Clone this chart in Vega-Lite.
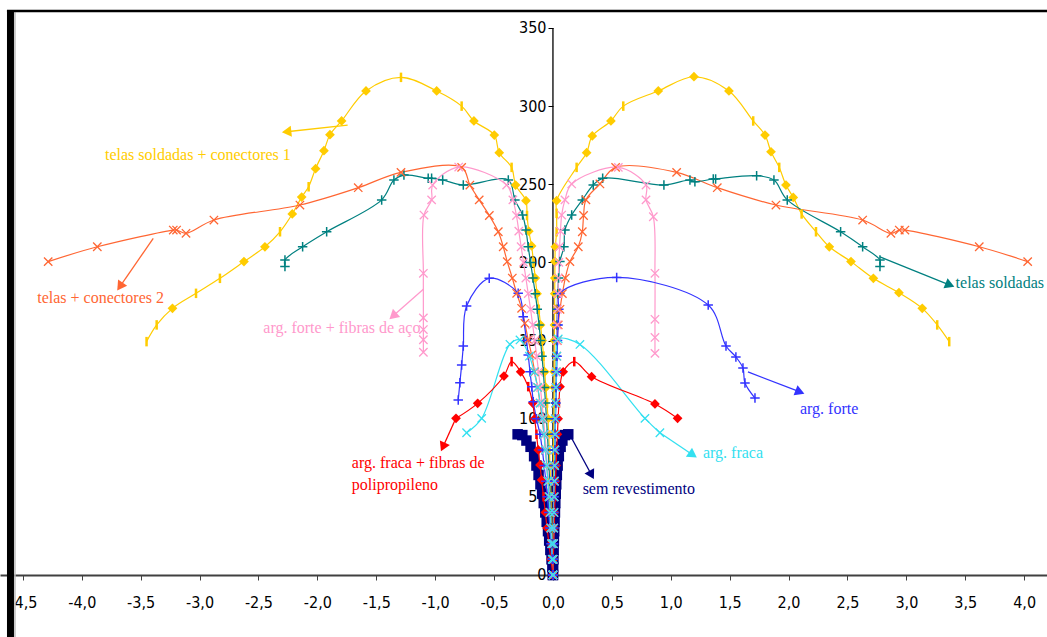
{
"$schema": "https://vega.github.io/schema/vega-lite/v6.json",
"width": 1047, "height": 637,
"autosize": {"type": "none"},
"padding": 0,
"background": "white",
"config": {"view": {"stroke": null}},
"datasets": {
"curvas": [
{"s":"G","r":"E","i":0,"x":0,"y":0,"m":1},{"s":"G","r":"E","i":1,"x":-0.003,"y":10,"m":1},{"s":"G","r":"E","i":2,"x":-0.006,"y":20,"m":2},{"s":"G","r":"E","i":3,"x":-0.01,"y":30,"m":1},{"s":"G","r":"E","i":4,"x":-0.013,"y":40,"m":1},{"s":"G","r":"E","i":5,"x":-0.017,"y":50,"m":2},{"s":"G","r":"E","i":6,"x":-0.021,"y":60,"m":1},{"s":"G","r":"E","i":7,"x":-0.025,"y":70,"m":1},{"s":"G","r":"E","i":8,"x":-0.03,"y":80,"m":2},{"s":"G","r":"E","i":9,"x":-0.036,"y":90,"m":1},{"s":"G","r":"E","i":10,"x":-0.042,"y":100,"m":1},{"s":"G","r":"E","i":11,"x":-0.05,"y":110,"m":2},{"s":"G","r":"E","i":12,"x":-0.06,"y":120,"m":1},{"s":"G","r":"E","i":13,"x":-0.07,"y":130,"m":1},{"s":"G","r":"E","i":14,"x":-0.08,"y":140,"m":2},{"s":"G","r":"E","i":15,"x":-0.092,"y":150,"m":1},{"s":"G","r":"E","i":16,"x":-0.105,"y":160,"m":1},{"s":"G","r":"E","i":17,"x":-0.12,"y":170,"m":2},{"s":"G","r":"E","i":18,"x":-0.135,"y":180,"m":1},{"s":"G","r":"E","i":19,"x":-0.15,"y":190,"m":1},{"s":"G","r":"E","i":20,"x":-0.165,"y":200,"m":2},{"s":"G","r":"E","i":21,"x":-0.181,"y":210.5,"m":1},{"s":"G","r":"E","i":22,"x":-0.205,"y":220,"m":1},{"s":"G","r":"E","i":23,"x":-0.22,"y":230,"m":2},{"s":"G","r":"E","i":24,"x":-0.229,"y":239.5,"m":1},{"s":"G","r":"E","i":25,"x":-0.317,"y":249.5,"m":1},{"s":"G","r":"E","i":26,"x":-0.351,"y":260.8,"m":2},{"s":"G","r":"E","i":27,"x":-0.456,"y":270.2,"m":1},{"s":"G","r":"E","i":28,"x":-0.498,"y":281.5,"m":1},{"s":"G","r":"E","i":29,"x":-0.671,"y":290.5,"m":1},{"s":"G","r":"E","i":30,"x":-0.775,"y":300,"m":2},{"s":"G","r":"E","i":31,"x":-0.987,"y":309.7,"m":1},{"s":"G","r":"E","i":32,"x":-1.29,"y":318.4,"m":2},{"s":"G","r":"E","i":33,"x":-1.587,"y":309.7,"m":1},{"s":"G","r":"E","i":34,"x":-1.794,"y":290.5,"m":1},{"s":"G","r":"E","i":35,"x":-1.893,"y":281.7,"m":1},{"s":"G","r":"E","i":36,"x":-1.944,"y":271.5,"m":1},{"s":"G","r":"E","i":37,"x":-2.015,"y":260,"m":1},{"s":"G","r":"E","i":38,"x":-2.074,"y":248.4,"m":2},{"s":"G","r":"E","i":39,"x":-2.133,"y":241.8,"m":1},{"s":"G","r":"E","i":40,"x":-2.213,"y":231,"m":1},{"s":"G","r":"E","i":41,"x":-2.317,"y":219.6,"m":2},{"s":"G","r":"E","i":42,"x":-2.445,"y":210,"m":1},{"s":"G","r":"E","i":43,"x":-2.623,"y":200.5,"m":1},{"s":"G","r":"E","i":44,"x":-2.827,"y":189.8,"m":2},{"s":"G","r":"E","i":45,"x":-3.03,"y":180.2,"m":2},{"s":"G","r":"E","i":46,"x":-3.23,"y":170.6,"m":1},{"s":"G","r":"E","i":47,"x":-3.364,"y":160,"m":2},{"s":"G","r":"E","i":48,"x":-3.45,"y":149.3,"m":2},
{"s":"G","r":"D","i":0,"x":0,"y":0,"m":1},{"s":"G","r":"D","i":1,"x":0.001,"y":10,"m":1},{"s":"G","r":"D","i":2,"x":0.002,"y":20,"m":2},{"s":"G","r":"D","i":3,"x":0.003,"y":30,"m":1},{"s":"G","r":"D","i":4,"x":0.004,"y":40,"m":1},{"s":"G","r":"D","i":5,"x":0.005,"y":50,"m":2},{"s":"G","r":"D","i":6,"x":0.005,"y":60,"m":1},{"s":"G","r":"D","i":7,"x":0.006,"y":70,"m":1},{"s":"G","r":"D","i":8,"x":0.006,"y":80,"m":2},{"s":"G","r":"D","i":9,"x":0.007,"y":90,"m":1},{"s":"G","r":"D","i":10,"x":0.008,"y":100,"m":1},{"s":"G","r":"D","i":11,"x":0.009,"y":110,"m":2},{"s":"G","r":"D","i":12,"x":0.01,"y":120,"m":1},{"s":"G","r":"D","i":13,"x":0.01,"y":130,"m":1},{"s":"G","r":"D","i":14,"x":0.011,"y":140,"m":2},{"s":"G","r":"D","i":15,"x":0.012,"y":150,"m":1},{"s":"G","r":"D","i":16,"x":0.013,"y":160,"m":1},{"s":"G","r":"D","i":17,"x":0.014,"y":170,"m":2},{"s":"G","r":"D","i":18,"x":0.015,"y":180,"m":1},{"s":"G","r":"D","i":19,"x":0.016,"y":190,"m":1},{"s":"G","r":"D","i":20,"x":0.017,"y":200.5,"m":1},{"s":"G","r":"D","i":21,"x":0.02,"y":210,"m":1},{"s":"G","r":"D","i":22,"x":0.031,"y":219.6,"m":2},{"s":"G","r":"D","i":23,"x":0.031,"y":231.4,"m":2},{"s":"G","r":"D","i":24,"x":0.031,"y":239.5,"m":1},{"s":"G","r":"D","i":25,"x":0.201,"y":260.8,"m":2},{"s":"G","r":"D","i":26,"x":0.286,"y":270.2,"m":1},{"s":"G","r":"D","i":27,"x":0.334,"y":280.9,"m":1},{"s":"G","r":"D","i":28,"x":0.492,"y":290.5,"m":1},{"s":"G","r":"D","i":29,"x":0.597,"y":300,"m":2},{"s":"G","r":"D","i":30,"x":0.894,"y":309.7,"m":1},{"s":"G","r":"D","i":31,"x":1.197,"y":318.8,"m":1},{"s":"G","r":"D","i":32,"x":1.494,"y":309.7,"m":1},{"s":"G","r":"D","i":33,"x":1.7,"y":290.5,"m":2},{"s":"G","r":"D","i":34,"x":1.8,"y":281.5,"m":1},{"s":"G","r":"D","i":35,"x":1.851,"y":270.8,"m":1},{"s":"G","r":"D","i":36,"x":1.921,"y":260.8,"m":2},{"s":"G","r":"D","i":37,"x":1.978,"y":249.5,"m":1},{"s":"G","r":"D","i":38,"x":2.04,"y":241.6,"m":1},{"s":"G","r":"D","i":39,"x":2.111,"y":231,"m":2},{"s":"G","r":"D","i":40,"x":2.233,"y":219.6,"m":2},{"s":"G","r":"D","i":41,"x":2.346,"y":210,"m":1},{"s":"G","r":"D","i":42,"x":2.53,"y":200.5,"m":1},{"s":"G","r":"D","i":43,"x":2.72,"y":189.8,"m":1},{"s":"G","r":"D","i":44,"x":2.937,"y":180.6,"m":1},{"s":"G","r":"D","i":45,"x":3.135,"y":170.6,"m":1},{"s":"G","r":"D","i":46,"x":3.262,"y":160,"m":2},{"s":"G","r":"D","i":47,"x":3.364,"y":149.3,"m":2},
{"s":"O","r":"E","i":0,"x":0,"y":0,"m":1},{"s":"O","r":"E","i":1,"x":-0.005,"y":10,"m":1},{"s":"O","r":"E","i":2,"x":-0.01,"y":20,"m":1},{"s":"O","r":"E","i":3,"x":-0.017,"y":30,"m":1},{"s":"O","r":"E","i":4,"x":-0.025,"y":40,"m":1},{"s":"O","r":"E","i":5,"x":-0.033,"y":50,"m":1},{"s":"O","r":"E","i":6,"x":-0.042,"y":60,"m":1},{"s":"O","r":"E","i":7,"x":-0.052,"y":70,"m":1},{"s":"O","r":"E","i":8,"x":-0.063,"y":80,"m":1},{"s":"O","r":"E","i":9,"x":-0.076,"y":90,"m":1},{"s":"O","r":"E","i":10,"x":-0.092,"y":100,"m":1},{"s":"O","r":"E","i":11,"x":-0.11,"y":110,"m":1},{"s":"O","r":"E","i":12,"x":-0.13,"y":120,"m":1},{"s":"O","r":"E","i":13,"x":-0.155,"y":130,"m":1},{"s":"O","r":"E","i":14,"x":-0.181,"y":140.8,"m":1},{"s":"O","r":"E","i":15,"x":-0.21,"y":150.4,"m":1},{"s":"O","r":"E","i":16,"x":-0.238,"y":161,"m":1},{"s":"O","r":"E","i":17,"x":-0.266,"y":170.6,"m":1},{"s":"O","r":"E","i":18,"x":-0.308,"y":180.2,"m":1},{"s":"O","r":"E","i":19,"x":-0.345,"y":190,"m":1},{"s":"O","r":"E","i":20,"x":-0.388,"y":200.5,"m":1},{"s":"O","r":"E","i":21,"x":-0.422,"y":210,"m":1},{"s":"O","r":"E","i":22,"x":-0.464,"y":219.6,"m":1},{"s":"O","r":"E","i":23,"x":-0.54,"y":230,"m":1},{"s":"O","r":"E","i":24,"x":-0.626,"y":240,"m":1},{"s":"O","r":"E","i":25,"x":-0.705,"y":249.5,"m":1},{"s":"O","r":"E","i":26,"x":-0.775,"y":260.8,"m":1},{"s":"O","r":"E","i":27,"x":-1.29,"y":257.6,"m":1},{"s":"O","r":"E","i":28,"x":-1.653,"y":247.8,"m":1},{"s":"O","r":"E","i":29,"x":-2.148,"y":236.7,"m":1},{"s":"O","r":"E","i":30,"x":-2.878,"y":227.1,"m":1},{"s":"O","r":"E","i":31,"x":-3.115,"y":218.6,"m":1},{"s":"O","r":"E","i":32,"x":-3.195,"y":220.7,"m":1},{"s":"O","r":"E","i":33,"x":-3.223,"y":220.7,"m":1},{"s":"O","r":"E","i":34,"x":-3.868,"y":210,"m":1},{"s":"O","r":"E","i":35,"x":-4.285,"y":200.5,"m":1},
{"s":"O","r":"D","i":0,"x":0,"y":0,"m":1},{"s":"O","r":"D","i":1,"x":0.002,"y":10,"m":1},{"s":"O","r":"D","i":2,"x":0.004,"y":20,"m":1},{"s":"O","r":"D","i":3,"x":0.006,"y":30,"m":1},{"s":"O","r":"D","i":4,"x":0.008,"y":40,"m":1},{"s":"O","r":"D","i":5,"x":0.01,"y":50,"m":1},{"s":"O","r":"D","i":6,"x":0.012,"y":60,"m":1},{"s":"O","r":"D","i":7,"x":0.014,"y":70,"m":1},{"s":"O","r":"D","i":8,"x":0.016,"y":80,"m":1},{"s":"O","r":"D","i":9,"x":0.018,"y":90,"m":1},{"s":"O","r":"D","i":10,"x":0.02,"y":100,"m":1},{"s":"O","r":"D","i":11,"x":0.022,"y":110,"m":1},{"s":"O","r":"D","i":12,"x":0.025,"y":120,"m":1},{"s":"O","r":"D","i":13,"x":0.028,"y":130,"m":1},{"s":"O","r":"D","i":14,"x":0.032,"y":140,"m":1},{"s":"O","r":"D","i":15,"x":0.037,"y":150,"m":1},{"s":"O","r":"D","i":16,"x":0.045,"y":160,"m":1},{"s":"O","r":"D","i":17,"x":0.06,"y":170,"m":1},{"s":"O","r":"D","i":18,"x":0.08,"y":180,"m":1},{"s":"O","r":"D","i":19,"x":0.105,"y":190,"m":1},{"s":"O","r":"D","i":20,"x":0.144,"y":200.5,"m":1},{"s":"O","r":"D","i":21,"x":0.215,"y":210,"m":1},{"s":"O","r":"D","i":22,"x":0.249,"y":219.6,"m":1},{"s":"O","r":"D","i":23,"x":0.26,"y":230,"m":1},{"s":"O","r":"D","i":24,"x":0.28,"y":240,"m":1},{"s":"O","r":"D","i":25,"x":0.399,"y":250.2,"m":1},{"s":"O","r":"D","i":26,"x":0.532,"y":260.8,"m":1},{"s":"O","r":"D","i":27,"x":1.05,"y":257.6,"m":1},{"s":"O","r":"D","i":28,"x":1.395,"y":247.8,"m":1},{"s":"O","r":"D","i":29,"x":1.893,"y":236.7,"m":1},{"s":"O","r":"D","i":30,"x":2.629,"y":227.1,"m":1},{"s":"O","r":"D","i":31,"x":2.869,"y":218.6,"m":1},{"s":"O","r":"D","i":32,"x":2.94,"y":220.7,"m":1},{"s":"O","r":"D","i":33,"x":2.988,"y":220.7,"m":1},{"s":"O","r":"D","i":34,"x":3.619,"y":210,"m":1},{"s":"O","r":"D","i":35,"x":4.03,"y":200.5,"m":1},
{"s":"T","r":"E","i":0,"x":0,"y":0,"m":1},{"s":"T","r":"E","i":1,"x":-0.004,"y":10,"m":1},{"s":"T","r":"E","i":2,"x":-0.008,"y":20,"m":1},{"s":"T","r":"E","i":3,"x":-0.013,"y":30,"m":1},{"s":"T","r":"E","i":4,"x":-0.018,"y":40,"m":1},{"s":"T","r":"E","i":5,"x":-0.023,"y":50,"m":1},{"s":"T","r":"E","i":6,"x":-0.028,"y":60,"m":1},{"s":"T","r":"E","i":7,"x":-0.034,"y":70,"m":1},{"s":"T","r":"E","i":8,"x":-0.04,"y":80,"m":1},{"s":"T","r":"E","i":9,"x":-0.047,"y":90,"m":1},{"s":"T","r":"E","i":10,"x":-0.055,"y":100,"m":1},{"s":"T","r":"E","i":11,"x":-0.063,"y":110,"m":1},{"s":"T","r":"E","i":12,"x":-0.072,"y":120,"m":1},{"s":"T","r":"E","i":13,"x":-0.082,"y":130,"m":1},{"s":"T","r":"E","i":14,"x":-0.093,"y":140,"m":1},{"s":"T","r":"E","i":15,"x":-0.105,"y":150,"m":1},{"s":"T","r":"E","i":16,"x":-0.118,"y":160,"m":1},{"s":"T","r":"E","i":17,"x":-0.133,"y":170,"m":1},{"s":"T","r":"E","i":18,"x":-0.15,"y":180,"m":1},{"s":"T","r":"E","i":19,"x":-0.17,"y":190,"m":1},{"s":"T","r":"E","i":20,"x":-0.19,"y":200,"m":1},{"s":"T","r":"E","i":21,"x":-0.21,"y":210,"m":1},{"s":"T","r":"E","i":22,"x":-0.229,"y":220.7,"m":1},{"s":"T","r":"E","i":23,"x":-0.258,"y":230.3,"m":1},{"s":"T","r":"E","i":24,"x":-0.323,"y":240,"m":1},{"s":"T","r":"E","i":25,"x":-0.379,"y":252.7,"m":1},{"s":"T","r":"E","i":26,"x":-0.761,"y":249.5,"m":1},{"s":"T","r":"E","i":27,"x":-0.936,"y":252.7,"m":1},{"s":"T","r":"E","i":28,"x":-1.03,"y":253.8,"m":1},{"s":"T","r":"E","i":29,"x":-1.059,"y":253.8,"m":1},{"s":"T","r":"E","i":30,"x":-1.265,"y":255.9,"m":1},{"s":"T","r":"E","i":31,"x":-1.35,"y":252.7,"m":1},{"s":"T","r":"E","i":32,"x":-1.454,"y":240,"m":1},{"s":"T","r":"E","i":33,"x":-1.921,"y":219.6,"m":1},{"s":"T","r":"E","i":34,"x":-2.125,"y":210,"m":1},{"s":"T","r":"E","i":35,"x":-2.275,"y":201.5,"m":1},{"s":"T","r":"E","i":36,"x":-2.275,"y":197.3,"m":1},
{"s":"T","r":"D","i":0,"x":0,"y":0,"m":1},{"s":"T","r":"D","i":1,"x":0.002,"y":10,"m":1},{"s":"T","r":"D","i":2,"x":0.004,"y":20,"m":1},{"s":"T","r":"D","i":3,"x":0.006,"y":30,"m":1},{"s":"T","r":"D","i":4,"x":0.008,"y":40,"m":1},{"s":"T","r":"D","i":5,"x":0.01,"y":50,"m":1},{"s":"T","r":"D","i":6,"x":0.012,"y":60,"m":1},{"s":"T","r":"D","i":7,"x":0.014,"y":70,"m":1},{"s":"T","r":"D","i":8,"x":0.016,"y":80,"m":1},{"s":"T","r":"D","i":9,"x":0.018,"y":90,"m":1},{"s":"T","r":"D","i":10,"x":0.02,"y":100,"m":1},{"s":"T","r":"D","i":11,"x":0.022,"y":110,"m":1},{"s":"T","r":"D","i":12,"x":0.024,"y":120,"m":1},{"s":"T","r":"D","i":13,"x":0.026,"y":130,"m":1},{"s":"T","r":"D","i":14,"x":0.028,"y":140,"m":1},{"s":"T","r":"D","i":15,"x":0.03,"y":150,"m":1},{"s":"T","r":"D","i":16,"x":0.033,"y":160,"m":1},{"s":"T","r":"D","i":17,"x":0.036,"y":170,"m":1},{"s":"T","r":"D","i":18,"x":0.04,"y":180,"m":1},{"s":"T","r":"D","i":19,"x":0.048,"y":190,"m":1},{"s":"T","r":"D","i":20,"x":0.059,"y":200.5,"m":1},{"s":"T","r":"D","i":21,"x":0.093,"y":210,"m":1},{"s":"T","r":"D","i":22,"x":0.102,"y":220.7,"m":1},{"s":"T","r":"D","i":23,"x":0.159,"y":230.3,"m":1},{"s":"T","r":"D","i":24,"x":0.249,"y":240,"m":1},{"s":"T","r":"D","i":25,"x":0.342,"y":249.5,"m":1},{"s":"T","r":"D","i":26,"x":0.422,"y":253.8,"m":1},{"s":"T","r":"D","i":27,"x":0.942,"y":249.5,"m":1},{"s":"T","r":"D","i":28,"x":1.163,"y":252.7,"m":1},{"s":"T","r":"D","i":29,"x":1.205,"y":251.6,"m":1},{"s":"T","r":"D","i":30,"x":1.361,"y":253.4,"m":1},{"s":"T","r":"D","i":31,"x":1.381,"y":253.4,"m":1},{"s":"T","r":"D","i":32,"x":1.729,"y":255.5,"m":1},{"s":"T","r":"D","i":33,"x":1.876,"y":252.7,"m":1},{"s":"T","r":"D","i":34,"x":1.989,"y":240,"m":1},{"s":"T","r":"D","i":35,"x":2.442,"y":219.6,"m":1},{"s":"T","r":"D","i":36,"x":2.629,"y":210,"m":1},{"s":"T","r":"D","i":37,"x":2.776,"y":201.5,"m":1},{"s":"T","r":"D","i":38,"x":2.776,"y":197.3,"m":1},
{"s":"P","r":"E","i":0,"x":0,"y":0,"m":1},{"s":"P","r":"E","i":1,"x":-0.005,"y":10,"m":1},{"s":"P","r":"E","i":2,"x":-0.01,"y":20,"m":1},{"s":"P","r":"E","i":3,"x":-0.016,"y":30,"m":1},{"s":"P","r":"E","i":4,"x":-0.022,"y":40,"m":1},{"s":"P","r":"E","i":5,"x":-0.03,"y":50,"m":1},{"s":"P","r":"E","i":6,"x":-0.038,"y":60,"m":1},{"s":"P","r":"E","i":7,"x":-0.047,"y":70,"m":1},{"s":"P","r":"E","i":8,"x":-0.057,"y":80,"m":1},{"s":"P","r":"E","i":9,"x":-0.068,"y":90,"m":1},{"s":"P","r":"E","i":10,"x":-0.08,"y":100,"m":1},{"s":"P","r":"E","i":11,"x":-0.093,"y":110,"m":1},{"s":"P","r":"E","i":12,"x":-0.107,"y":120,"m":1},{"s":"P","r":"E","i":13,"x":-0.122,"y":130,"m":1},{"s":"P","r":"E","i":14,"x":-0.138,"y":140,"m":1},{"s":"P","r":"E","i":15,"x":-0.155,"y":150,"m":1},{"s":"P","r":"E","i":16,"x":-0.172,"y":160,"m":1},{"s":"P","r":"E","i":17,"x":-0.19,"y":170,"m":1},{"s":"P","r":"E","i":18,"x":-0.21,"y":180,"m":1},{"s":"P","r":"E","i":19,"x":-0.23,"y":190,"m":1},{"s":"P","r":"E","i":20,"x":-0.25,"y":200,"m":1},{"s":"P","r":"E","i":21,"x":-0.27,"y":210,"m":1},{"s":"P","r":"E","i":22,"x":-0.29,"y":220,"m":1},{"s":"P","r":"E","i":23,"x":-0.31,"y":230,"m":1},{"s":"P","r":"E","i":24,"x":-0.34,"y":240,"m":1},{"s":"P","r":"E","i":25,"x":-0.393,"y":249.5,"m":1},{"s":"P","r":"E","i":26,"x":-0.8,"y":261,"m":1},{"s":"P","r":"E","i":27,"x":-1.021,"y":249.5,"m":1},{"s":"P","r":"E","i":28,"x":-1.03,"y":240,"m":1},{"s":"P","r":"E","i":29,"x":-1.095,"y":230.3,"m":1},{"s":"P","r":"E","i":30,"x":-1.1,"y":193,"m":1},{"s":"P","r":"E","i":31,"x":-1.1,"y":164.5,"m":1},{"s":"P","r":"E","i":32,"x":-1.1,"y":157,"m":1},{"s":"P","r":"E","i":33,"x":-1.1,"y":150.5,"m":1},{"s":"P","r":"E","i":34,"x":-1.1,"y":142.5,"m":1},
{"s":"P","r":"D","i":0,"x":0,"y":0,"m":1},{"s":"P","r":"D","i":1,"x":0.002,"y":10,"m":1},{"s":"P","r":"D","i":2,"x":0.004,"y":20,"m":1},{"s":"P","r":"D","i":3,"x":0.006,"y":30,"m":1},{"s":"P","r":"D","i":4,"x":0.008,"y":40,"m":1},{"s":"P","r":"D","i":5,"x":0.01,"y":50,"m":1},{"s":"P","r":"D","i":6,"x":0.012,"y":60,"m":1},{"s":"P","r":"D","i":7,"x":0.014,"y":70,"m":1},{"s":"P","r":"D","i":8,"x":0.016,"y":80,"m":1},{"s":"P","r":"D","i":9,"x":0.018,"y":90,"m":1},{"s":"P","r":"D","i":10,"x":0.02,"y":100,"m":1},{"s":"P","r":"D","i":11,"x":0.022,"y":110,"m":1},{"s":"P","r":"D","i":12,"x":0.024,"y":120,"m":1},{"s":"P","r":"D","i":13,"x":0.026,"y":130,"m":1},{"s":"P","r":"D","i":14,"x":0.029,"y":140,"m":1},{"s":"P","r":"D","i":15,"x":0.032,"y":150,"m":1},{"s":"P","r":"D","i":16,"x":0.035,"y":160,"m":1},{"s":"P","r":"D","i":17,"x":0.038,"y":170,"m":1},{"s":"P","r":"D","i":18,"x":0.042,"y":180,"m":1},{"s":"P","r":"D","i":19,"x":0.046,"y":190,"m":1},{"s":"P","r":"D","i":20,"x":0.05,"y":200,"m":1},{"s":"P","r":"D","i":21,"x":0.056,"y":210,"m":1},{"s":"P","r":"D","i":22,"x":0.064,"y":220,"m":1},{"s":"P","r":"D","i":23,"x":0.074,"y":230.3,"m":1},{"s":"P","r":"D","i":24,"x":0.102,"y":240,"m":1},{"s":"P","r":"D","i":25,"x":0.159,"y":250.2,"m":1},{"s":"P","r":"D","i":26,"x":0.555,"y":260.8,"m":1},{"s":"P","r":"D","i":27,"x":0.79,"y":249.5,"m":1},{"s":"P","r":"D","i":28,"x":0.79,"y":240,"m":1},{"s":"P","r":"D","i":29,"x":0.852,"y":229.2,"m":1},{"s":"P","r":"D","i":30,"x":0.866,"y":193,"m":1},{"s":"P","r":"D","i":31,"x":0.866,"y":163.6,"m":1},{"s":"P","r":"D","i":32,"x":0.866,"y":152,"m":1},{"s":"P","r":"D","i":33,"x":0.866,"y":141.8,"m":1},
{"s":"B","r":"E","i":0,"x":0,"y":0,"m":1},{"s":"B","r":"E","i":1,"x":-0.008,"y":10,"m":1},{"s":"B","r":"E","i":2,"x":-0.017,"y":20,"m":1},{"s":"B","r":"E","i":3,"x":-0.026,"y":30,"m":1},{"s":"B","r":"E","i":4,"x":-0.036,"y":40,"m":1},{"s":"B","r":"E","i":5,"x":-0.048,"y":50,"m":1},{"s":"B","r":"E","i":6,"x":-0.06,"y":60,"m":1},{"s":"B","r":"E","i":7,"x":-0.075,"y":70,"m":1},{"s":"B","r":"E","i":8,"x":-0.09,"y":80,"m":1},{"s":"B","r":"E","i":9,"x":-0.11,"y":90,"m":1},{"s":"B","r":"E","i":10,"x":-0.14,"y":100,"m":1},{"s":"B","r":"E","i":11,"x":-0.167,"y":110.9,"m":1},{"s":"B","r":"E","i":12,"x":-0.18,"y":120.5,"m":1},{"s":"B","r":"E","i":13,"x":-0.195,"y":130,"m":1},{"s":"B","r":"E","i":14,"x":-0.21,"y":140.8,"m":1},{"s":"B","r":"E","i":15,"x":-0.225,"y":150,"m":1},{"s":"B","r":"E","i":16,"x":-0.252,"y":165.2,"m":1},{"s":"B","r":"E","i":17,"x":-0.295,"y":180.2,"m":1},{"s":"B","r":"E","i":18,"x":-0.541,"y":189.8,"m":1},{"s":"B","r":"E","i":19,"x":-0.733,"y":172.1,"m":1},{"s":"B","r":"E","i":20,"x":-0.761,"y":146.5,"m":1},{"s":"B","r":"E","i":21,"x":-0.775,"y":134.4,"m":1},{"s":"B","r":"E","i":22,"x":-0.79,"y":123,"m":1},{"s":"B","r":"E","i":23,"x":-0.804,"y":112,"m":1},
{"s":"B","r":"D","i":0,"x":0,"y":0,"m":1},{"s":"B","r":"D","i":1,"x":0.002,"y":10,"m":1},{"s":"B","r":"D","i":2,"x":0.004,"y":20,"m":1},{"s":"B","r":"D","i":3,"x":0.006,"y":30,"m":1},{"s":"B","r":"D","i":4,"x":0.008,"y":40,"m":1},{"s":"B","r":"D","i":5,"x":0.01,"y":50,"m":1},{"s":"B","r":"D","i":6,"x":0.012,"y":60,"m":1},{"s":"B","r":"D","i":7,"x":0.014,"y":70,"m":1},{"s":"B","r":"D","i":8,"x":0.016,"y":80,"m":1},{"s":"B","r":"D","i":9,"x":0.019,"y":90,"m":1},{"s":"B","r":"D","i":10,"x":0.022,"y":100,"m":1},{"s":"B","r":"D","i":11,"x":0.025,"y":110,"m":1},{"s":"B","r":"D","i":12,"x":0.028,"y":120,"m":1},{"s":"B","r":"D","i":13,"x":0.031,"y":130,"m":1},{"s":"B","r":"D","i":14,"x":0.035,"y":140,"m":1},{"s":"B","r":"D","i":15,"x":0.039,"y":150,"m":1},{"s":"B","r":"D","i":16,"x":0.044,"y":160,"m":1},{"s":"B","r":"D","i":17,"x":0.05,"y":170,"m":1},{"s":"B","r":"D","i":18,"x":0.059,"y":180.2,"m":1},{"s":"B","r":"D","i":19,"x":0.541,"y":190.4,"m":1},{"s":"B","r":"D","i":20,"x":1.318,"y":172.7,"m":1},{"s":"B","r":"D","i":21,"x":1.469,"y":146.5,"m":1},{"s":"B","r":"D","i":22,"x":1.553,"y":139.5,"m":1},{"s":"B","r":"D","i":23,"x":1.613,"y":132.4,"m":1},{"s":"B","r":"D","i":24,"x":1.63,"y":122.8,"m":1},{"s":"B","r":"D","i":25,"x":1.715,"y":113.2,"m":1},
{"s":"C","r":"E","i":0,"x":0,"y":0,"m":1},{"s":"C","r":"E","i":1,"x":-0.006,"y":10,"m":1},{"s":"C","r":"E","i":2,"x":-0.012,"y":20,"m":1},{"s":"C","r":"E","i":3,"x":-0.019,"y":30,"m":1},{"s":"C","r":"E","i":4,"x":-0.026,"y":40,"m":1},{"s":"C","r":"E","i":5,"x":-0.034,"y":50,"m":1},{"s":"C","r":"E","i":6,"x":-0.043,"y":60,"m":1},{"s":"C","r":"E","i":7,"x":-0.053,"y":70,"m":1},{"s":"C","r":"E","i":8,"x":-0.064,"y":80,"m":1},{"s":"C","r":"E","i":9,"x":-0.076,"y":90,"m":1},{"s":"C","r":"E","i":10,"x":-0.09,"y":100,"m":1},{"s":"C","r":"E","i":11,"x":-0.107,"y":110,"m":1},{"s":"C","r":"E","i":12,"x":-0.13,"y":120,"m":1},{"s":"C","r":"E","i":13,"x":-0.16,"y":130,"m":1},{"s":"C","r":"E","i":14,"x":-0.2,"y":140,"m":1},{"s":"C","r":"E","i":15,"x":-0.28,"y":150.4,"m":1},{"s":"C","r":"E","i":16,"x":-0.365,"y":147.6,"m":1},{"s":"C","r":"E","i":17,"x":-0.605,"y":100.2,"m":1},{"s":"C","r":"E","i":18,"x":-0.733,"y":91,"m":1},
{"s":"C","r":"D","i":0,"x":0,"y":0,"m":1},{"s":"C","r":"D","i":1,"x":0.002,"y":10,"m":1},{"s":"C","r":"D","i":2,"x":0.004,"y":20,"m":1},{"s":"C","r":"D","i":3,"x":0.006,"y":30,"m":1},{"s":"C","r":"D","i":4,"x":0.008,"y":40,"m":1},{"s":"C","r":"D","i":5,"x":0.01,"y":50,"m":1},{"s":"C","r":"D","i":6,"x":0.012,"y":60,"m":1},{"s":"C","r":"D","i":7,"x":0.014,"y":70,"m":1},{"s":"C","r":"D","i":8,"x":0.016,"y":80,"m":1},{"s":"C","r":"D","i":9,"x":0.018,"y":90,"m":1},{"s":"C","r":"D","i":10,"x":0.02,"y":100,"m":1},{"s":"C","r":"D","i":11,"x":0.023,"y":110,"m":1},{"s":"C","r":"D","i":12,"x":0.026,"y":120,"m":1},{"s":"C","r":"D","i":13,"x":0.029,"y":130,"m":1},{"s":"C","r":"D","i":14,"x":0.033,"y":140,"m":1},{"s":"C","r":"D","i":15,"x":0.045,"y":151,"m":1},{"s":"C","r":"D","i":16,"x":0.229,"y":147.5,"m":1},{"s":"C","r":"D","i":17,"x":0.781,"y":100.2,"m":1},{"s":"C","r":"D","i":18,"x":0.908,"y":91,"m":1},
{"s":"R","r":"E","i":0,"x":0,"y":0,"m":1},{"s":"R","r":"E","i":1,"x":-0.017,"y":10,"m":1},{"s":"R","r":"E","i":2,"x":-0.034,"y":20,"m":2},{"s":"R","r":"E","i":3,"x":-0.05,"y":30,"m":1},{"s":"R","r":"E","i":4,"x":-0.065,"y":40,"m":1},{"s":"R","r":"E","i":5,"x":-0.08,"y":50,"m":2},{"s":"R","r":"E","i":6,"x":-0.096,"y":60.8,"m":1},{"s":"R","r":"E","i":7,"x":-0.11,"y":70.4,"m":1},{"s":"R","r":"E","i":8,"x":-0.125,"y":80,"m":1},{"s":"R","r":"E","i":9,"x":-0.14,"y":90,"m":2},{"s":"R","r":"E","i":10,"x":-0.155,"y":100,"m":1},{"s":"R","r":"E","i":11,"x":-0.172,"y":110,"m":1},{"s":"R","r":"E","i":12,"x":-0.21,"y":120.5,"m":2},{"s":"R","r":"E","i":13,"x":-0.274,"y":130,"m":1},{"s":"R","r":"E","i":14,"x":-0.351,"y":136.5,"m":2},{"s":"R","r":"E","i":15,"x":-0.416,"y":127.3,"m":1},{"s":"R","r":"E","i":16,"x":-0.639,"y":109.8,"m":1},{"s":"R","r":"E","i":17,"x":-0.823,"y":100.2,"m":1},
{"s":"R","r":"D","i":0,"x":0,"y":0,"m":1},{"s":"R","r":"D","i":1,"x":0.003,"y":10,"m":1},{"s":"R","r":"D","i":2,"x":0.006,"y":20,"m":2},{"s":"R","r":"D","i":3,"x":0.01,"y":30,"m":1},{"s":"R","r":"D","i":4,"x":0.014,"y":40,"m":1},{"s":"R","r":"D","i":5,"x":0.018,"y":50,"m":2},{"s":"R","r":"D","i":6,"x":0.022,"y":60,"m":1},{"s":"R","r":"D","i":7,"x":0.027,"y":70,"m":1},{"s":"R","r":"D","i":8,"x":0.032,"y":80,"m":2},{"s":"R","r":"D","i":9,"x":0.038,"y":90,"m":1},{"s":"R","r":"D","i":10,"x":0.044,"y":100,"m":1},{"s":"R","r":"D","i":11,"x":0.051,"y":110,"m":2},{"s":"R","r":"D","i":12,"x":0.06,"y":120.5,"m":1},{"s":"R","r":"D","i":13,"x":0.087,"y":130,"m":1},{"s":"R","r":"D","i":14,"x":0.181,"y":136.5,"m":2},{"s":"R","r":"D","i":15,"x":0.328,"y":126.9,"m":1},{"s":"R","r":"D","i":16,"x":0.866,"y":109.4,"m":1},{"s":"R","r":"D","i":17,"x":1.058,"y":100.2,"m":1},
{"s":"N","r":"E","i":0,"x":0,"y":0,"m":1},{"s":"N","r":"E","i":1,"x":-0.005,"y":5,"m":1},{"s":"N","r":"E","i":2,"x":-0.012,"y":10,"m":1},{"s":"N","r":"E","i":3,"x":-0.022,"y":16,"m":1},{"s":"N","r":"E","i":4,"x":-0.032,"y":22,"m":1},{"s":"N","r":"E","i":5,"x":-0.042,"y":28,"m":1},{"s":"N","r":"E","i":6,"x":-0.053,"y":34,"m":1},{"s":"N","r":"E","i":7,"x":-0.065,"y":40,"m":1},{"s":"N","r":"E","i":8,"x":-0.078,"y":46,"m":1},{"s":"N","r":"E","i":9,"x":-0.092,"y":52,"m":1},{"s":"N","r":"E","i":10,"x":-0.106,"y":58,"m":1},{"s":"N","r":"E","i":11,"x":-0.122,"y":64,"m":1},{"s":"N","r":"E","i":12,"x":-0.14,"y":70,"m":1},{"s":"N","r":"E","i":13,"x":-0.16,"y":76,"m":1},{"s":"N","r":"E","i":14,"x":-0.19,"y":82,"m":1},{"s":"N","r":"E","i":15,"x":-0.225,"y":86,"m":1},{"s":"N","r":"E","i":16,"x":-0.26,"y":89.5,"m":1},{"s":"N","r":"E","i":17,"x":-0.3,"y":90,"m":1},
{"s":"N","r":"D","i":0,"x":0,"y":0,"m":1},{"s":"N","r":"D","i":1,"x":0.002,"y":5,"m":1},{"s":"N","r":"D","i":2,"x":0.004,"y":10,"m":1},{"s":"N","r":"D","i":3,"x":0.006,"y":16,"m":1},{"s":"N","r":"D","i":4,"x":0.008,"y":22,"m":1},{"s":"N","r":"D","i":5,"x":0.011,"y":28,"m":1},{"s":"N","r":"D","i":6,"x":0.014,"y":34,"m":1},{"s":"N","r":"D","i":7,"x":0.017,"y":40,"m":1},{"s":"N","r":"D","i":8,"x":0.02,"y":46,"m":1},{"s":"N","r":"D","i":9,"x":0.024,"y":52,"m":1},{"s":"N","r":"D","i":10,"x":0.028,"y":58,"m":1},{"s":"N","r":"D","i":11,"x":0.033,"y":64,"m":1},{"s":"N","r":"D","i":12,"x":0.04,"y":70,"m":1},{"s":"N","r":"D","i":13,"x":0.05,"y":76,"m":1},{"s":"N","r":"D","i":14,"x":0.065,"y":82,"m":1},{"s":"N","r":"D","i":15,"x":0.08,"y":86,"m":1},{"s":"N","r":"D","i":16,"x":0.1,"y":89.5,"m":1},{"s":"N","r":"D","i":17,"x":0.13,"y":90,"m":1}
],
"setas": [
{"s":"G","x":-1.743,"y":287.9,"x2":-2.261,"y2":283.6},
{"s":"O","x":-3.393,"y":215.4,"x2":-3.676,"y2":184.5},
{"s":"P","x":-1.1,"y":182.8,"x2":-1.358,"y2":165.7},
{"s":"T","x":2.776,"y":203.5,"x2":3.37,"y2":185.5},
{"s":"B","x":1.655,"y":129.9,"x2":2.097,"y2":117.1},
{"s":"C","x":0.908,"y":91,"x2":1.188,"y2":76.8},
{"s":"R","x":-0.823,"y":100.4,"x2":-0.934,"y2":81.9},
{"s":"N","x":0.159,"y":87.5,"x2":0.328,"y2":64}
],
"rotulos": [
{"s":"G","t":"telas soldadas + conectores 1","x":-3.803,"y":268.7},
{"s":"O","t":"telas + conectores 2","x":-4.378,"y":177.5},
{"s":"P","t":"arg. forte + fibras de aço","x":-2.459,"y":157.8},
{"s":"T","t":"telas soldadas","x":3.418,"y":187},
{"s":"B","t":"arg. forte","x":2.097,"y":106.2},
{"s":"C","t":"arg. fraca","x":1.273,"y":78},
{"s":"R","t":"arg. fraca + fibras de","x":-1.707,"y":71.6},
{"s":"R","t":"polipropileno","x":-1.707,"y":57.6},
{"s":"N","t":"sem revestimento","x":0.252,"y":55}
],
"um": [{"k": 1}]
},
"layer": [
{"data": {"name": "curvas"},
 "transform": [{"filter": "datum.s === 'N'"}],
 "mark": {"type": "line", "interpolate": "catmull-rom", "strokeWidth": 1.2},
 "encoding": {
  "x": {"field": "x", "type": "quantitative", "scale": {"domain": [-4.694, 4.194], "nice": false, "zero": false},
   "axis": {"orient": "bottom", "offset": -62, "title": null, "grid": false,
    "values": [-4.5,-4,-3.5,-3,-2.5,-2,-1.5,-1,-0.5,0,0.5,1,1.5,2,2.5,3,3.5,4],
    "labelExpr": "replace(replace(format(datum.value, '.1f'), '.', ','), '\u2212', '-')",
    "domainColor": "#404040", "domainWidth": 1.8, "tickColor": "#404040", "tickSize": 5, "tickWidth": 1,
    "labelFont": "Liberation Sans Narrow, DejaVu Sans Condensed, sans-serif", "labelFontSize": 16, "labelColor": "black",
    "labelPadding": 14, "labelOverlap": false, "labelBound": false, "labelFlush": false}},
  "y": {"field": "y", "type": "quantitative", "scale": {"domain": [-39.7, 367.9], "nice": false, "zero": false},
   "axis": {"orient": "left", "offset": -553, "title": null, "grid": false, "domain": false,
    "values": [0,50,100,150,200,250,300,350],
    "tickColor": "black", "tickSize": 5, "tickWidth": 1,
    "labelFont": "Liberation Sans Narrow, DejaVu Sans Condensed, sans-serif", "labelFontSize": 16, "labelColor": "black",
    "labelPadding": 2, "labelOverlap": false, "labelBound": false, "labelFlush": false}},
  "color": {"field": "s", "type": "nominal", "legend": null,
   "scale": {"domain": ["G","O","T","P","B","C","R","N"], "range": ["#FFCC00","#FF6633","#008080","#FF99CC","#3333FF","#33E0F0","#FF0000","#000080"]}},
  "detail": {"field": "r"},
  "order": {"field": "i", "type": "quantitative"}}},
{"data": {"name": "um"},
 "mark": {"type": "rule", "color": "black", "strokeWidth": 7},
 "encoding": {"x": {"datum": -4.605, "type": "quantitative"},
  "y": {"datum": 361.5, "type": "quantitative"},
  "y2": {"datum": -39.7}}},
{"data": {"name": "um"},
 "mark": {"type": "rule", "color": "#BBBBBB", "strokeWidth": 1.5},
 "encoding": {"x": {"datum": -4.567, "type": "quantitative"},
  "y": {"datum": 360, "type": "quantitative"},
  "y2": {"datum": -39.7}}},
{"data": {"name": "um"},
 "mark": {"type": "rule", "color": "black", "strokeWidth": 2.5},
 "encoding": {"y": {"datum": 360.8, "type": "quantitative"},
  "x": {"datum": -4.635, "type": "quantitative"}, "x2": {"datum": 4.194}}},
{"data": {"name": "um"},
 "mark": {"type": "rule", "color": "black", "strokeWidth": 1.3},
 "encoding": {"x": {"datum": 0, "type": "quantitative"},
  "y": {"datum": 0, "type": "quantitative"}, "y2": {"datum": 350}}},
{"data": {"name": "curvas"},
 "transform": [{"filter": "datum.s === 'N'"}],
 "mark": {"type": "point", "shape": "square", "filled": true, "size": 110, "opacity": 1},
 "encoding": {
  "x": {"field": "x", "type": "quantitative"},
  "y": {"field": "y", "type": "quantitative"},
  "color": {"field": "s", "type": "nominal", "legend": null}}},
{"data": {"name": "curvas"},
 "transform": [{"filter": "datum.s !== 'N'"}],
 "mark": {"type": "line", "interpolate": "catmull-rom", "strokeWidth": 1.2},
 "encoding": {
  "x": {"field": "x", "type": "quantitative"},
  "y": {"field": "y", "type": "quantitative"},
  "color": {"field": "s", "type": "nominal", "legend": null},
  "detail": {"field": "r"},
  "order": {"field": "i", "type": "quantitative"}}},
{"data": {"name": "curvas"},
 "transform": [{"filter": "(datum.s === 'G' || datum.s === 'R') && datum.m === 1"}],
 "mark": {"type": "point", "shape": "diamond", "filled": true, "size": 95, "opacity": 1},
 "encoding": {
  "x": {"field": "x", "type": "quantitative"},
  "y": {"field": "y", "type": "quantitative"},
  "color": {"field": "s", "type": "nominal", "legend": null}}},
{"data": {"name": "curvas"},
 "transform": [{"filter": "(datum.s === 'G' || datum.s === 'R') && datum.m === 2"}],
 "mark": {"type": "point", "shape": "M0,-1L0,1", "filled": false, "size": 90, "strokeWidth": 2.5, "opacity": 1},
 "encoding": {
  "x": {"field": "x", "type": "quantitative"},
  "y": {"field": "y", "type": "quantitative"},
  "color": {"field": "s", "type": "nominal", "legend": null}}},
{"data": {"name": "curvas"},
 "transform": [{"filter": "datum.s === 'T' || datum.s === 'B'"}],
 "mark": {"type": "point", "shape": "M-1,0L1,0M0,-1L0,1", "filled": false, "size": 90, "strokeWidth": 1.5, "opacity": 1},
 "encoding": {
  "x": {"field": "x", "type": "quantitative"},
  "y": {"field": "y", "type": "quantitative"},
  "color": {"field": "s", "type": "nominal", "legend": null}}},
{"data": {"name": "curvas"},
 "transform": [{"filter": "datum.s === 'O' || datum.s === 'P' || datum.s === 'C'"}],
 "mark": {"type": "point", "shape": "M-1,-1L1,1M-1,1L1,-1", "filled": false, "size": 70, "strokeWidth": 1.3, "opacity": 1},
 "encoding": {
  "x": {"field": "x", "type": "quantitative"},
  "y": {"field": "y", "type": "quantitative"},
  "color": {"field": "s", "type": "nominal", "legend": null}}},
{"data": {"name": "setas"},
 "mark": {"type": "rule", "strokeWidth": 1.3},
 "encoding": {
  "x": {"field": "x", "type": "quantitative"},
  "y": {"field": "y", "type": "quantitative"},
  "x2": {"field": "x2"}, "y2": {"field": "y2"},
  "color": {"field": "s", "type": "nominal", "legend": null}}},
{"data": {"name": "setas"},
 "transform": [{"calculate": "atan2((datum.x2 - datum.x) * 117.8, (datum.y2 - datum.y) * 1.563) * 180 / PI", "as": "ang"}],
 "mark": {"type": "point", "shape": "triangle-up", "filled": true, "size": 120, "opacity": 1},
 "encoding": {
  "x": {"field": "x2", "type": "quantitative"},
  "y": {"field": "y2", "type": "quantitative"},
  "angle": {"field": "ang", "type": "quantitative", "scale": null},
  "color": {"field": "s", "type": "nominal", "legend": null}}},
{"data": {"name": "rotulos"},
 "mark": {"type": "text", "align": "left", "baseline": "middle", "font": "Liberation Serif", "fontSize": 16},
 "encoding": {
  "x": {"field": "x", "type": "quantitative"},
  "y": {"field": "y", "type": "quantitative"},
  "text": {"field": "t"},
  "color": {"field": "s", "type": "nominal", "legend": null}}}
]
}
